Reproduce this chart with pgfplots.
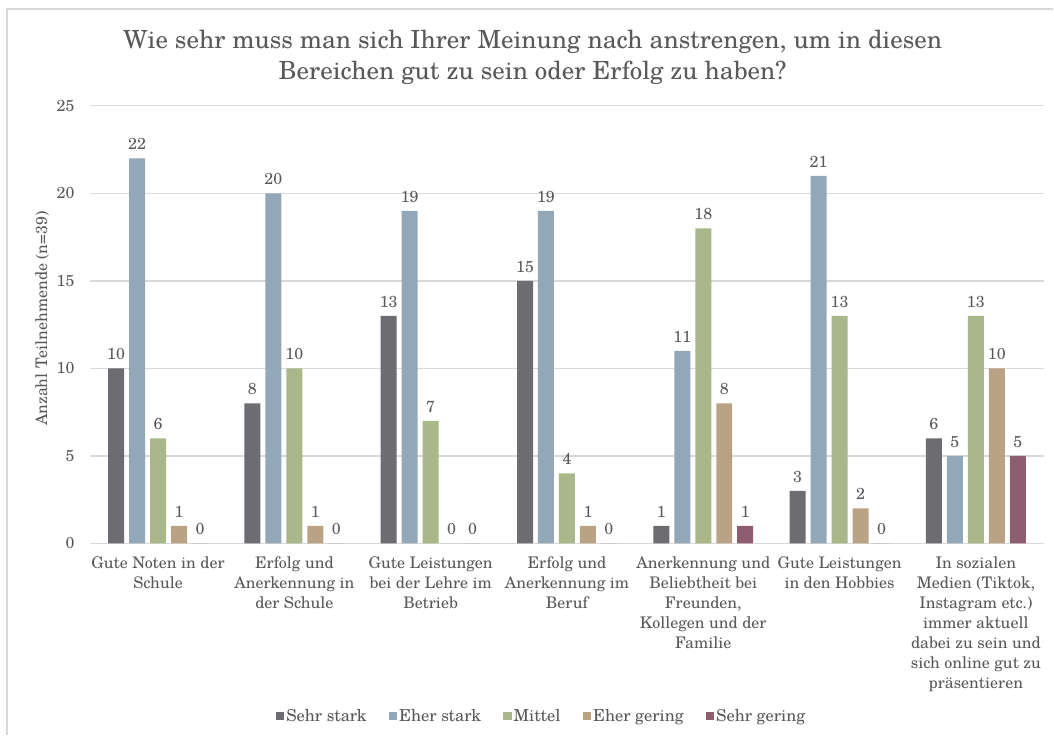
\documentclass[border=0pt]{standalone}
\usepackage{fontspec}
\setmainfont{TeX Gyre Schola}
\usepackage{pgfplots}
\pgfplotsset{compat=1.18}
\definecolor{cA}{RGB}{108,108,113}
\definecolor{cB}{RGB}{146,168,185}
\definecolor{cC}{RGB}{168,184,138}
\definecolor{cD}{RGB}{186,162,132}
\definecolor{cE}{RGB}{142,94,112}
\definecolor{txt}{RGB}{89,89,89}
\definecolor{gridc}{RGB}{217,217,217}
\pgfplotsset{sqlegend/.style={legend image code/.code={\fill[##1] (0pt,-4pt) rectangle (8.5pt,4.5pt);}}}
\begin{document}
\begin{tikzpicture}
\begin{axis}[
 scale only axis, width=955pt, height=438pt,
 ybar=5pt, bar width=16pt,
 ymin=0, ymax=25, ytick={0,5,...,25},
 xmin=-0.5, xmax=6.5, xtick={0,...,6},
 xticklabels={{Gute Noten in der\\Schule},{Erfolg und\\Anerkennung in\\der Schule},{Gute Leistungen\\bei der Lehre im\\Betrieb},{Erfolg und\\Anerkennung im\\Beruf},{Anerkennung und\\Beliebtheit bei\\Freunden,\\Kollegen und der\\Familie},{Gute Leistungen\\in den Hobbies},{In sozialen\\Medien (Tiktok,\\Instagram etc.)\\immer aktuell\\dabei zu sein und\\sich online gut zu\\präsentieren}},
 xticklabel style={align=center, font=\fontsize{16}{20}\selectfont, text=txt, yshift=-10pt},
 yticklabel style={font=\fontsize{16}{19.5}\selectfont, text=txt, xshift=-12pt},
 /pgf/number format/assume math mode=true,
 major tick length=0pt,
 axis line style={draw=none},
 ymajorgrids, grid style={draw=gridc, line width=1.2pt},
 ylabel={Anzahl Teilnehmende (n=39)},
 ylabel style={at={(axis description cs:-0.050,0.5137)}, anchor=center, font=\fontsize{16}{19.5}\selectfont, text=txt},
 clip=false,
 nodes near coords,
 every node near coord/.append style={font=\fontsize{16}{19.5}\selectfont, text=txt, yshift=5pt},
 legend columns=-1,
 legend style={at={(axis description cs:0.4733,-0.395)}, anchor=center, draw=none, fill=none, font=\fontsize{16.5}{19.5}\selectfont, text=txt, /tikz/every even column/.append style={column sep=20pt}, inner sep=0pt},
]
\addplot[fill=cA, draw=none, sqlegend] coordinates {(0,10) (1,8) (2,13) (3,15) (4,1) (5,3) (6,6)};
\addplot[fill=cB, draw=none, sqlegend] coordinates {(0,22) (1,20) (2,19) (3,19) (4,11) (5,21) (6,5)};
\addplot[fill=cC, draw=none, sqlegend] coordinates {(0,6) (1,10) (2,7) (3,4) (4,18) (5,13) (6,13)};
\addplot[fill=cD, draw=none, sqlegend] coordinates {(0,1) (1,1) (2,0) (3,1) (4,8) (5,2) (6,10)};
\addplot[fill=cE, draw=none, sqlegend] coordinates {(0,0) (1,0) (2,0) (3,0) (4,1) (5,0) (6,5)};
\legend{Sehr stark, Eher stark, Mittel, Eher gering, Sehr gering}
\node[align=center, font=\fontsize{25}{31}\selectfont, text=txt] at (axis description cs:0.464,1.112) {Wie sehr muss man sich Ihrer Meinung nach anstrengen, um in diesen\\Bereichen gut zu sein oder Erfolg zu haben?};
\draw[gridc, line width=2pt] (axis description cs:-0.0869,-0.43836) -- (axis description cs:-0.0869,1.2215) -- (axis description cs:1.00942,1.2215);
\path (axis description cs:-0.09424,-0.43836) rectangle (axis description cs:1.00942,1.24201);
\end{axis}
\end{tikzpicture}
\end{document}
